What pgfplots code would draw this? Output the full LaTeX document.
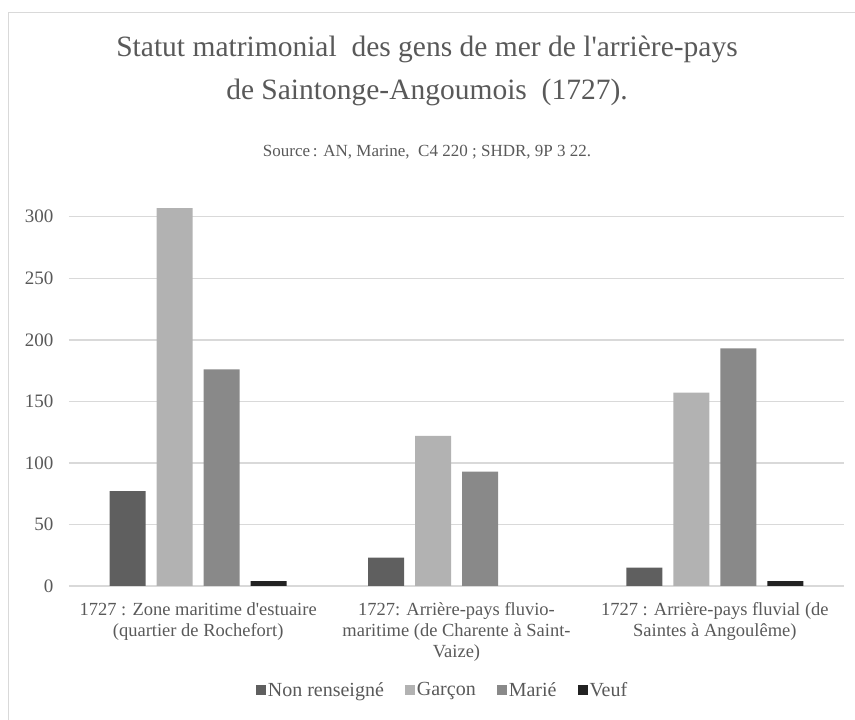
\documentclass[border=0pt]{standalone}
\usepackage{pgfplots}
\pgfplotsset{compat=1.18}
\usepackage{fontspec}
\setmainfont{Liberation Serif}[Ligatures=TeXOff]
\definecolor{txt}{HTML}{595959}
\definecolor{gridc}{HTML}{D9D9D9}
\definecolor{cNR}{HTML}{5F5F5F}
\definecolor{cG}{HTML}{B2B2B2}
\definecolor{cM}{HTML}{898989}
\definecolor{cV}{HTML}{222222}
\begin{document}
\begin{tikzpicture}[x=1pt,y=1pt]
\path[use as bounding box] (0,0) rectangle (855,720);
\draw[gridc,line width=1.5pt] (8.5,0) -- (8.5,707.5) -- (855,707.5);
\node[txt,align=center,font=\fontsize{29.5}{43}\selectfont] at (427,649.5) {Statut matrimonial\ \ des gens de mer de l'arrière-pays\\de Saintonge-Angoumois\ \ (1727).};
\node[txt,font=\fontsize{17}{19}\selectfont] at (427,568) {Source\,: AN, Marine,\ \ C4 220 ; SHDR, 9P 3 22.};
\begin{axis}[
  at={(69pt,134pt)}, anchor=south west,
  scale only axis, width=775pt, height=381.6pt,
  ymin=0, ymax=310, xmin=-0.5, xmax=2.5,
  clip=false,
  axis line style={draw=none},
  ytick={0,50,100,150,200,250,300},
  xtick={0,1,2},
  xticklabels={{1727 : Zone maritime d'estuaire\\(quartier de Rochefort)},{1727: Arrière-pays fluvio-\\maritime (de Charente à Saint-\\Vaize)},{1727 : Arrière-pays fluvial (de\\Saintes à Angoulême)}},
  xticklabel style={align=center,font=\fontsize{18.5}{21}\selectfont,color=txt,yshift=-13pt},
  yticklabel style={font=\fontsize{19}{20}\selectfont,color=txt,xshift=-12pt},
  /pgf/number format/assume math mode=true,
  major tick length=0pt,
  ymajorgrids, xmajorgrids=false, grid style={gridc,line width=1.5pt},
  ybar=11pt, bar width=36pt,
  legend columns=4,
  legend style={draw=none,at={(0.482,-0.2725)},anchor=center,font=\fontsize{20}{22}\selectfont,text=txt,
    nodes={inner xsep=1.5pt},
    /tikz/every even column/.append style={column sep=20pt}},
  legend image code/.code={\fill[#1] (0pt,-5pt) rectangle (10pt,5pt);},
]
\draw[gridc,line width=1.5pt] (axis cs:-0.5,0) -- (axis cs:2.5,0);
\addplot[fill=cNR,draw=none] coordinates {(0,77) (1,23) (2,15)};
\addplot[fill=cG,draw=none] coordinates {(0,307) (1,122) (2,157)};
\addplot[fill=cM,draw=none] coordinates {(0,176) (1,93) (2,193)};
\addplot[fill=cV,draw=none] coordinates {(0,4) (1,nan) (2,4)};
\legend{Non renseigné,Garçon,Marié,Veuf}
\end{axis}
\end{tikzpicture}
\end{document}
